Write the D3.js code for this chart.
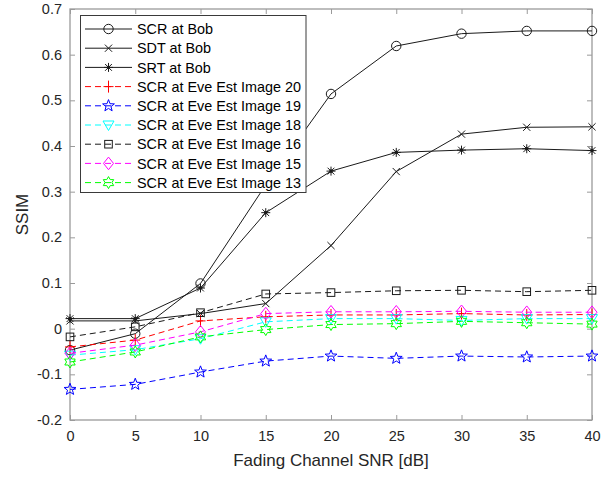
<!DOCTYPE html>
<html>
<head>
<meta charset="utf-8">
<script src="https://cdn.jsdelivr.net/npm/d3@7"></script>
<style>
  html, body { margin: 0; padding: 0; background: #fff; }
  svg { display: block; font-family: "Liberation Sans", Arial, sans-serif; }
</style>
</head>
<body>
<svg id="chart" width="612" height="477"></svg>
<script>
// ---------- data ----------
const snr = [0, 5, 10, 15, 20, 25, 30, 35, 40];
const scrBob = [-0.047, -0.011, 0.099, 0.315, 0.514, 0.619, 0.646, 0.652, 0.652];
const sdtBob = [0.017, 0.017, 0.033, 0.055, 0.182, 0.344, 0.426, 0.441, 0.442];
const srtBob = [0.022, 0.022, 0.089, 0.254, 0.345, 0.386, 0.391, 0.394, 0.390];
const eve20 = [-0.040, -0.025, 0.017, 0.026, 0.030, 0.030, 0.033, 0.030, 0.031];
const eve19 = [-0.133, -0.122, -0.095, -0.071, -0.060, -0.065, -0.060, -0.062, -0.060];
const eve18 = [-0.058, -0.046, -0.022, 0.015, 0.022, 0.022, 0.018, 0.022, 0.022];
const eve16 = [-0.018, 0.004, 0.035, 0.076, 0.079, 0.083, 0.084, 0.081, 0.084];
const eve15 = [-0.054, -0.036, -0.007, 0.033, 0.037, 0.037, 0.038, 0.036, 0.036];
const eve13 = [-0.073, -0.051, -0.018, -0.002, 0.009, 0.011, 0.016, 0.013, 0.010];

const seriesNames = ["SCR at Bob", "SDT at Bob", "SRT at Bob",
  "SCR at Eve Est Image 20", "SCR at Eve Est Image 19", "SCR at Eve Est Image 18",
  "SCR at Eve Est Image 16", "SCR at Eve Est Image 15", "SCR at Eve Est Image 13"];
const seriesValues = [scrBob, sdtBob, srtBob, eve20, eve19, eve18, eve16, eve15, eve13];
const seriesColors = ["#1a1a1a", "#1a1a1a", "#1a1a1a", "#ff0000", "#0000ff", "#00ffff", "#1a1a1a", "#ff00ff", "#00ff00"];
const seriesDashed = [false, false, false, true, true, true, true, true, true];
const seriesMarkers = ["circle", "x", "asterisk", "plus", "pentagram", "triangledown", "square", "diamond", "hexagram"];

const xTicks = [0, 5, 10, 15, 20, 25, 30, 35, 40];
const xTickLabels = ["0", "5", "10", "15", "20", "25", "30", "35", "40"];
const yTicks = [-0.2, -0.1, 0, 0.1, 0.2, 0.3, 0.4, 0.5, 0.6, 0.7];
const yTickLabels = ["-0.2", "-0.1", "0", "0.1", "0.2", "0.3", "0.4", "0.5", "0.6", "0.7"];
const xLabel = "Fading Channel SNR [dB]";
const yLabel = "SSIM";

// ---------- layout ----------
const svg = d3.select("#chart");
const L = 70, R = 592, T = 9, B = 420;
const x = d3.scaleLinear().domain([0, 40]).range([L, R]);
const y = d3.scaleLinear().domain([-0.2, 0.7]).range([B, T]);
const axisColor = "#9a9a9a";
const textColor = "#262626";
const tickFont = 14.5;

// ---------- axes ----------
function styleAxis(g) {
  g.select(".domain").remove();
  g.selectAll(".tick line").attr("stroke", axisColor).attr("stroke-width", 1);
  g.selectAll(".tick text").attr("fill", textColor).attr("font-size", tickFont)
    .attr("font-family", '"Liberation Sans", Arial, sans-serif');
}
const xFmt = v => xTickLabels[xTicks.indexOf(v)];
const yFmt = v => yTickLabels[yTicks.findIndex(t => Math.abs(t - v) < 1e-9)];

svg.append("g").attr("transform", `translate(0,${B})`)
  .call(d3.axisBottom(x).tickValues(xTicks).tickFormat(xFmt).tickSize(-5).tickPadding(11))
  .call(styleAxis);
svg.append("g").attr("transform", `translate(0,${T})`)
  .call(d3.axisTop(x).tickValues(xTicks).tickFormat("").tickSize(-5))
  .call(styleAxis);
svg.append("g").attr("transform", `translate(${L},0)`)
  .call(d3.axisLeft(y).tickValues(yTicks).tickFormat(yFmt).tickSize(-5).tickPadding(8))
  .call(styleAxis);
svg.append("g").attr("transform", `translate(${R},0)`)
  .call(d3.axisRight(y).tickValues(yTicks).tickFormat("").tickSize(-5))
  .call(styleAxis);

svg.append("rect").attr("x", L).attr("y", T).attr("width", R - L).attr("height", B - T)
  .attr("fill", "none").attr("stroke", axisColor).attr("stroke-width", 1.3);

// labels
svg.append("text").attr("x", (L + R) / 2).attr("y", 466).attr("text-anchor", "middle")
  .attr("font-size", 17).attr("fill", textColor).text(xLabel);
svg.append("text").attr("transform", `translate(28,${(T + B) / 2}) rotate(-90)`)
  .attr("text-anchor", "middle").attr("font-size", 17).attr("fill", textColor).text(yLabel);

// ---------- markers ----------
function starPath(n, Ro, Ri) {
  const pts = [];
  for (let k = 0; k < 2 * n; k++) {
    const a = -Math.PI / 2 + k * Math.PI / n;
    const r = k % 2 === 0 ? Ro : Ri;
    pts.push([r * Math.cos(a), r * Math.sin(a)]);
  }
  return "M" + pts.map(p => p[0].toFixed(2) + "," + p[1].toFixed(2)).join("L") + "Z";
}
function drawMarker(g, type, cx, cy, color) {
  const m = g.append("g").attr("transform", `translate(${cx},${cy})`)
    .attr("fill", "none").attr("stroke", color).attr("stroke-width", 1);
  switch (type) {
    case "circle": m.append("circle").attr("r", 4.7); break;
    case "x": m.append("path").attr("d", "M-3.6,-3.6L3.6,3.6M-3.6,3.6L3.6,-3.6"); break;
    case "asterisk":
      m.append("path").attr("d", "M-4.5,0L4.5,0M0,-4.5L0,4.5M-3.4,-3.4L3.4,3.4M-3.4,3.4L3.4,-3.4");
      m.append("circle").attr("r", 1.3).attr("fill", color);
      break;
    case "plus": m.append("path").attr("d", "M-5,0L5,0M0,-6L0,6"); break;
    case "pentagram": m.append("path").attr("d", starPath(5, 6.2, 2.6)); break;
    case "triangledown": m.append("path").attr("d", "M-5.5,-4L5.5,-4L0,5.5Z"); break;
    case "square": m.append("rect").attr("x", -3.8).attr("y", -3.8).attr("width", 7.6).attr("height", 7.6); break;
    case "diamond": m.append("path").attr("d", "M0,-6.3L5,0L0,6.3L-5,0Z"); break;
    case "hexagram": m.append("path").attr("d", starPath(6, 6, 3.46)); break;
  }
}

// ---------- series ----------
const line = d3.line().x(d => x(d[0])).y(d => y(d[1]));
const plot = svg.append("g");
seriesValues.forEach((vals, i) => {
  const pts = snr.map((s, j) => [s, vals[j]]);
  const g = plot.append("g");
  g.append("path").attr("d", line(pts)).attr("fill", "none")
    .attr("stroke", seriesColors[i]).attr("stroke-width", 1)
    .attr("stroke-dasharray", seriesDashed[i] ? "6,4" : null);
  pts.forEach(p => drawMarker(g, seriesMarkers[i], x(p[0]), y(p[1]), seriesColors[i]));
});

// ---------- legend ----------
const lg = svg.append("g");
lg.append("rect").attr("x", 80.5).attr("y", 15.5).attr("width", 225.5).attr("height", 177)
  .attr("fill", "#fff").attr("stroke", "#3a3a3a").attr("stroke-width", 1);
seriesNames.forEach((name, i) => {
  const yy = 29 + i * 19.2;
  lg.append("line").attr("x1", 85).attr("x2", 132).attr("y1", yy).attr("y2", yy)
    .attr("stroke", seriesColors[i]).attr("stroke-width", 1)
    .attr("stroke-dasharray", seriesDashed[i] ? "6,4" : null);
  drawMarker(lg, seriesMarkers[i], 108.5, yy, seriesColors[i]);
  lg.append("text").attr("x", 137).attr("y", yy).attr("dy", "0.36em")
    .attr("font-size", 14.4).attr("fill", "#000").text(name);
});
</script>
</body>
</html>
